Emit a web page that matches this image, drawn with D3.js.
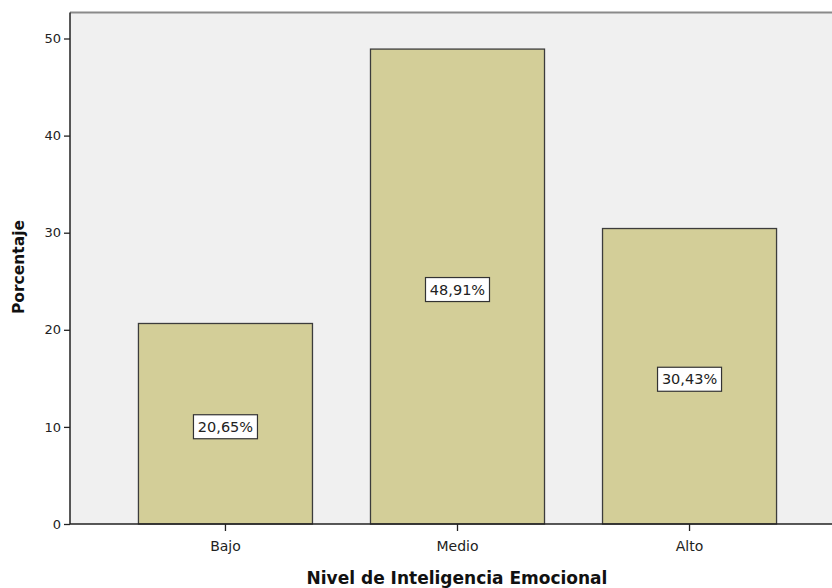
<!DOCTYPE html>
<html>
<head>
<meta charset="utf-8">
<script src="https://cdn.jsdelivr.net/npm/d3@7"></script>
<style>
  html, body { margin: 0; padding: 0; background: #ffffff; }
  svg { display: block; font-family: "DejaVu Sans", sans-serif; }
</style>
</head>
<body>
<svg id="chart" width="832" height="588"></svg>
<script>
// Nivel de Inteligencia Emocional — porcentaje por categoría
const categories = ["Bajo", "Medio", "Alto"];
const percentages = [20.65, 48.91, 30.43];
const yTicks = [0, 10, 20, 30, 40, 50];

const svg = d3.select("#chart");
const W = 832, H = 588;
const plot = { left: 70, top: 12.5, bottom: 524 };

const y = d3.scaleLinear().domain([0, 50]).range([plot.bottom, 38.5]);
const x = d3.scaleBand()
  .domain(categories)
  .range([plot.left, 845])
  .paddingInner(0.25)
  .paddingOuter(0.295);

// plot background
svg.append("rect")
  .attr("x", plot.left).attr("y", plot.top)
  .attr("width", W - plot.left).attr("height", plot.bottom - plot.top)
  .attr("fill", "#f0f0f0");

// top frame line
svg.append("line")
  .attr("x1", plot.left).attr("x2", W)
  .attr("y1", plot.top).attr("y2", plot.top)
  .attr("stroke", "#8a8a8a").attr("stroke-width", 2);

// bars
svg.append("g").selectAll("rect")
  .data(categories)
  .join("rect")
  .attr("x", d => x(d))
  .attr("y", (d, i) => y(percentages[i]))
  .attr("width", x.bandwidth())
  .attr("height", (d, i) => y(0) - y(percentages[i]))
  .attr("fill", "#d3ce98")
  .attr("stroke", "#3c3c3c")
  .attr("stroke-width", 1.3);

// y axis
const yAxis = svg.append("g")
  .attr("transform", `translate(${plot.left},0)`)
  .call(d3.axisLeft(y).tickValues(yTicks).tickSize(6).tickPadding(3));
yAxis.select(".domain").attr("stroke", "#222").attr("stroke-width", 1.5)
  .attr("d", `M0,${plot.top}V${plot.bottom}`);
yAxis.selectAll(".tick line").attr("stroke", "#222").attr("stroke-width", 1.3);
yAxis.selectAll(".tick text")
  .attr("fill", "#222").style("font-size", "13px")
  .style("font-family", "DejaVu Sans, sans-serif");

// x axis
const xAxis = svg.append("g")
  .attr("transform", `translate(0,${plot.bottom})`)
  .call(d3.axisBottom(x).tickSize(7).tickPadding(10));
xAxis.select(".domain").attr("stroke", "#222").attr("stroke-width", 1.5)
  .attr("d", `M${plot.left},0H${W}`);
xAxis.selectAll(".tick line").attr("stroke", "#222").attr("stroke-width", 1.3);
xAxis.selectAll(".tick text")
  .attr("fill", "#222").style("font-size", "14px")
  .style("font-family", "DejaVu Sans, sans-serif");

// value labels inside bars
const fmt = v => v.toFixed(2).replace(".", ",") + "%";
const labels = svg.append("g").selectAll("g")
  .data(categories)
  .join("g")
  .attr("transform", (d, i) =>
    `translate(${x(d) + x.bandwidth() / 2},${y(percentages[i] / 2) + 3})`);

labels.append("rect")
  .attr("x", -32).attr("y", -12)
  .attr("width", 64).attr("height", 24)
  .attr("fill", "#ffffff")
  .attr("stroke", "#333").attr("stroke-width", 1.2);

labels.append("text")
  .attr("text-anchor", "middle")
  .attr("dy", "0.36em")
  .attr("fill", "#222")
  .style("font-size", "14.5px")
  .text((d, i) => fmt(percentages[i]));

// axis titles
svg.append("text")
  .attr("transform", `translate(24,267) rotate(-90)`)
  .attr("text-anchor", "middle")
  .attr("fill", "#111")
  .style("font-size", "15.5px").style("font-weight", "bold")
  .text("Porcentaje");

svg.append("text")
  .attr("x", 457).attr("y", 584)
  .attr("text-anchor", "middle")
  .attr("fill", "#111")
  .style("font-size", "17px").style("font-weight", "bold")
  .text("Nivel de Inteligencia Emocional");
</script>
</body>
</html>
